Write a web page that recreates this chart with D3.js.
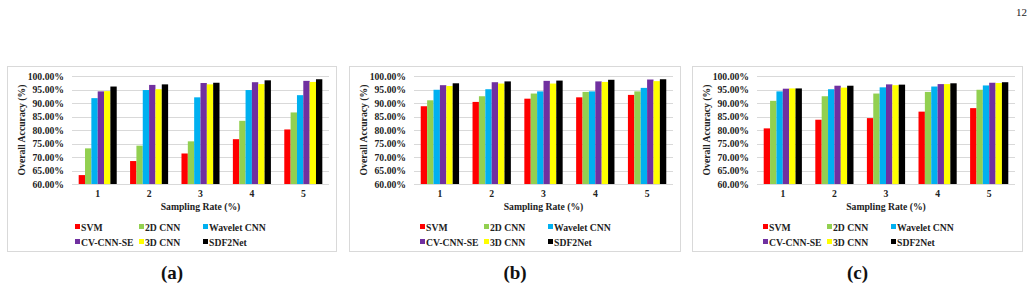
<!DOCTYPE html>
<html><head><meta charset="utf-8">
<script src="https://cdn.jsdelivr.net/npm/d3@7"></script>
<style>
html,body{margin:0;padding:0;background:#fff;}
svg{display:block;}
</style></head>
<body>
<svg id="chart" width="1035" height="288"></svg>
<script>
const categories = ["1", "2", "3", "4", "5"];
const seriesNames = ["SVM", "2D CNN", "Wavelet CNN", "CV-CNN-SE", "3D CNN", "SDF2Net"];
const seriesColors = ["#FF0000", "#92D050", "#00B0F0", "#7030A0", "#FFFF00", "#000000"];
const yTicks = [60, 65, 70, 75, 80, 85, 90, 95, 100];
const panelLabels = ["(a)", "(b)", "(c)"];

// values per series (rows) for categories 1..5
const valuesA = [
  [63.3, 68.5, 71.3, 76.6, 80.2],
  [73.2, 74.2, 75.8, 83.4, 86.5],
  [91.8, 94.8, 92.1, 94.8, 92.9],
  [94.3, 96.7, 97.4, 97.7, 98.2],
  [94.4, 95.1, 96.9, 97.0, 97.8],
  [96.1, 96.9, 97.5, 98.4, 98.8]
];
const valuesB = [
  [88.8, 90.4, 91.6, 92.1, 93.0],
  [91.0, 92.5, 93.5, 94.1, 94.3],
  [94.9, 95.1, 94.3, 94.3, 95.6],
  [96.6, 97.7, 98.2, 98.0, 98.7],
  [96.3, 97.2, 97.2, 97.8, 98.1],
  [97.3, 98.0, 98.3, 98.6, 98.8]
];
const valuesC = [
  [80.6, 83.8, 84.4, 86.8, 88.1],
  [90.8, 92.5, 93.5, 94.1, 94.9],
  [94.3, 95.1, 95.8, 96.1, 96.5],
  [95.3, 96.4, 96.9, 97.0, 97.5],
  [95.4, 95.7, 96.6, 97.0, 97.4],
  [95.4, 96.4, 96.8, 97.3, 97.7]
];
const panelValues = [valuesA, valuesB, valuesC];

const FONT = "'Liberation Serif', 'Times New Roman', serif";
const FS = 9.7;
const svg = d3.select("#chart").style("font-family", FONT);
svg.append("text").attr("x", 1027).attr("y", 16).attr("text-anchor", "end")
  .style("font-family", FONT).attr("font-size", 11).attr("fill", "#222").text("12");

const panelX = [7, 349, 692];
const panelW = [330, 332, 331];
const panelY = 66, panelH = 186;

panelX.forEach((px, pi) => {
  const g = svg.append("g").attr("transform", `translate(${px},${panelY})`);
  const w = panelW[pi];
  g.append("rect").attr("x", 0.5).attr("y", 0.5).attr("width", w - 1).attr("height", panelH - 1)
    .attr("fill", "#fff").attr("stroke", "#d9d9d9").attr("stroke-width", 1);

  const left = 65, right = w - 8, top = 10, bottom = 118;
  const x = d3.scaleBand().domain(categories).range([left, right]).paddingInner(0.26).paddingOuter(0.13);
  const xs = d3.scaleBand().domain(seriesNames).range([0, x.bandwidth()]);
  const y = d3.scaleLinear().domain([60, 100]).range([bottom, top]);

  // gridlines
  g.append("g").selectAll("line").data(yTicks).join("line")
    .attr("x1", left).attr("x2", right)
    .attr("y1", d => Math.round(y(d)) + 0.5).attr("y2", d => Math.round(y(d)) + 0.5)
    .attr("stroke", "#d9d9d9").attr("stroke-width", 1);

  // y axis
  const yAxis = d3.axisLeft(y).tickValues(yTicks).tickSize(0).tickPadding(8)
    .tickFormat(d => d3.format(".2f")(d) + "%");
  const ya = g.append("g").attr("transform", `translate(${left},0)`).call(yAxis);
  ya.attr("font-family", null);
  ya.select(".domain").remove();
  ya.selectAll("text").style("font-family", FONT).attr("font-size", FS).attr("font-weight", "bold").attr("fill", "#222");

  // x axis
  const xAxis = d3.axisBottom(x).tickSize(0).tickPadding(6);
  const xa = g.append("g").attr("transform", `translate(0,${bottom})`).call(xAxis);
  xa.attr("font-family", null);
  xa.select(".domain").remove();
  xa.selectAll("text").style("font-family", FONT).attr("font-size", FS).attr("font-weight", "bold").attr("fill", "#222");

  // bars
  const vals = panelValues[pi];
  seriesNames.forEach((s, si) => {
    g.append("g").selectAll("rect").data(categories).join("rect")
      .attr("x", c => x(c) + xs(s))
      .attr("width", xs.bandwidth())
      .attr("y", (c, ci) => y(vals[si][ci]))
      .attr("height", (c, ci) => y(60) - y(vals[si][ci]))
      .attr("fill", seriesColors[si]);
  });

  // axis titles
  g.append("text").attr("transform", `translate(${14},${(top + bottom) / 2}) rotate(-90)`)
    .attr("text-anchor", "middle").attr("dominant-baseline", "central")
    .style("font-family", FONT).attr("font-size", FS).attr("font-weight", "bold").attr("fill", "#222")
    .text("Overall Accuracy (%)");
  g.append("text").attr("x", (left + right) / 2).attr("y", 144)
    .attr("text-anchor", "middle").style("font-family", FONT).attr("font-size", FS).attr("font-weight", "bold").attr("fill", "#222")
    .text("Sampling Rate (%)");

  // legend
  const lg = g.append("g");
  seriesNames.forEach((s, si) => {
    const col = si % 3, row = Math.floor(si / 3);
    const lx = 68 + col * 64 + (pi === 0 ? 0 : 3), ly = 161 + row * 15;
    lg.append("rect").attr("x", lx).attr("y", ly - 3).attr("width", 5).attr("height", 5).attr("fill", seriesColors[si]);
    lg.append("text").attr("x", lx + 6).attr("y", ly).attr("dominant-baseline", "central")
      .style("font-family", FONT).attr("font-size", FS).attr("font-weight", "bold").attr("fill", "#222").text(s);
  });

  svg.append("text").attr("x", px + w / 2).attr("y", 279).attr("text-anchor", "middle")
    .style("font-family", FONT).attr("font-size", 19).attr("font-weight", "bold").attr("fill", "#111").text(panelLabels[pi]);
});
</script>
</body></html>
